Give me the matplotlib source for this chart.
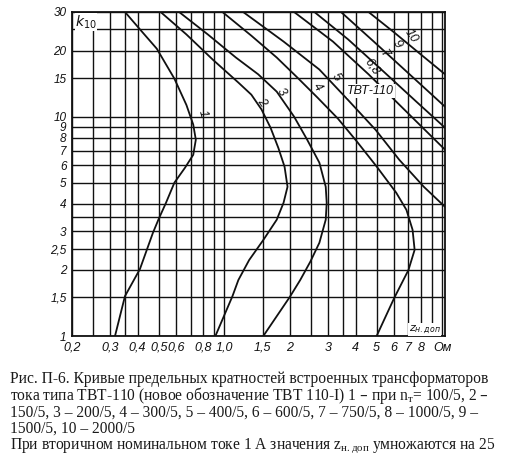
import matplotlib
matplotlib.use("Agg")
import matplotlib.pyplot as plt

# сетка и подписи осей
grid_x = [0.2, 0.25, 0.3, 0.35, 0.4, 0.5, 0.6, 0.7, 0.8, 0.9, 1.0,
          1.5, 2, 2.5, 3, 3.5, 4, 5, 6, 7, 8, 9, 10]
label_x = {0.2: "0,2", 0.3: "0,3", 0.4: "0,4", 0.5: "0,5", 0.6: "0,6",
           0.8: "0,8", 1.0: "1,0", 1.5: "1,5", 2: "2", 3: "3", 4: "4",
           5: "5", 6: "6", 7: "7", 8: "8", 10: "Ом"}
grid_y = [1, 1.5, 2, 2.5, 3, 3.5, 4, 5, 6, 7, 8, 9, 10, 15, 20, 25, 30]
label_y = {1: "1", 1.5: "1,5", 2: "2", 2.5: "2,5", 3: "3", 4: "4", 5: "5",
           6: "6", 7: "7", 8: "8", 9: "9", 10: "10", 15: "15", 20: "20",
           30: "30"}

# кривые k10 = f(z_н.доп)
z1 = [0.35, 0.41, 0.49, 0.59, 0.67, 0.72, 0.74, 0.72, 0.66, 0.59, 0.54, 0.50, 0.47, 0.41, 0.35, 0.315]
k1 = [30, 25, 20.4, 14.9, 11.3, 9.2, 7.85, 6.7, 5.85, 5.0, 4.05, 3.42, 2.95, 2.02, 1.52, 1.0]

z2 = [0.51, 0.67, 0.885, 1.16, 1.33, 1.48, 1.63, 1.77, 1.89, 1.95, 1.87, 1.74, 1.51, 1.30, 1.16, 1.09, 0.91]
k2 = [30, 23.7, 18.2, 14.3, 12.6, 10.8, 8.9, 7.2, 5.91, 4.79, 4.05, 3.39, 2.74, 2.22, 1.80, 1.52, 1.0]

z3 = [0.62, 0.84, 1.13, 1.43, 1.74, 2.09, 2.40, 2.73, 2.92, 2.95, 2.92, 2.73, 2.48, 2.23, 2.0, 1.51]
k3 = [30, 23.7, 18.6, 15.6, 13.0, 10.0, 7.85, 6.17, 4.79, 4.05, 3.39, 2.66, 2.18, 1.80, 1.51, 1.0]

z4 = [0.98, 1.33, 1.74, 2.16, 2.68, 3.32, 4.03, 5.01, 6.15, 6.85, 7.31, 7.47, 7.0, 6.02, 5.0]
k4 = [30, 23.4, 18.6, 15.1, 12.2, 9.8, 7.77, 5.91, 4.50, 3.76, 3.05, 2.47, 2.0, 1.49, 1.0]

z5 = [1.22, 1.87, 2.73, 3.70, 4.95, 6.35, 8.23, 10.3]
k5 = [30, 22.0, 16.4, 11.9, 8.7, 6.36, 4.79, 3.88]

z68 = [2.09, 3.15, 4.59, 7.08, 10.3]
k68 = [30, 22.0, 15.6, 10.2, 7.07]

z7 = [2.59, 3.70, 5.40, 7.47, 10.3]
k7 = [30, 22.5, 16.0, 11.9, 8.9]

z9 = [3.43, 4.85, 7.08, 10.3]
k9 = [30, 22.0, 15.6, 11.1]

z10 = [4.59, 6.02, 7.88, 10.3]
k10 = [30, 24.2, 19.4, 15.6]

curves = [(z1, k1), (z2, k2), (z3, k3), (z4, k4), (z5, k5),
          (z68, k68), (z7, k7), (z9, k9), (z10, k10)]

# подписи кривых: текст, z, k
curve_names = ["2", "3", "4", "5", "6,8", "7", "9", "10"]
name_z = [1.48, 1.83, 2.67, 3.25, 4.74, 5.40, 6.21, 7.23]
name_k = [11.6, 13.0, 13.7, 15.1, 16.9, 19.2, 21.3, 23.2]

caption = [
    "Рис. П-6. Кривые предельных кратностей встроенных трансформаторов",
    r"тока типа ТВТ-110 (новое обозначение ТВТ 110-I) 1 – при $\mathregular{n_т}$= 100/5, 2 –",
    "150/5, 3 – 200/5, 4 – 300/5, 5 – 400/5, 6 – 600/5, 7 – 750/5, 8 – 1000/5, 9 –",
    "1500/5, 10 – 2000/5",
    r"При вторичном номинальном токе 1 А значения $\mathregular{z_{н.доп}}$ умножаются на 25",
]

ink = "#111111"
tick_font = dict(family=["Liberation Sans", "DejaVu Sans"], style="italic", size=9)
ytick_font = dict(family=["Liberation Sans", "DejaVu Sans"], style="italic", size=8.5)

fig = plt.figure(figsize=(5.23, 4.72), dpi=100)
ax = fig.add_axes([0.1377, 0.2881, 0.7132, 0.6865])
ax.set_xscale("log")
ax.set_yscale("log")
ax.set_xlim(0.2, 10.3)
ax.set_ylim(1, 30)

for v in grid_x:
    ax.axvline(v, color=ink, lw=1.0, zorder=1)
for v in grid_y:
    ax.axhline(v, color=ink, lw=1.0, zorder=1)

for z, k in curves:
    ax.plot(z, k, color=ink, lw=1.3, zorder=3)

ax.xaxis.set_minor_locator(matplotlib.ticker.NullLocator())
ax.yaxis.set_minor_locator(matplotlib.ticker.NullLocator())
ax.set_xticks(grid_x, [label_x.get(v, "") for v in grid_x], **tick_font)
ax.set_yticks(grid_y, [label_y.get(v, "") for v in grid_y], **ytick_font)
ax.tick_params(length=0, pad=4, colors=ink)
for s in ax.spines.values():
    s.set_linewidth(1.3)
    s.set_color(ink)

for name, z, k in zip(curve_names, name_z, name_k):
    ax.text(z, k, name, rotation=-55, ha="center", va="center", color=ink,
            zorder=4, **tick_font)
ax.text(0.79, 10.3, "1", rotation=-75, ha="center", va="center", color=ink,
        zorder=4, **tick_font)
ax.text(4.7, 13.1, "ТВТ-110", ha="center", va="center", color=ink, zorder=4,
        bbox=dict(facecolor="white", edgecolor="none", pad=0.5), **tick_font)
ax.text(0.207, 27.0, "$k_{10}$", ha="left", va="center", color=ink, zorder=4,
        bbox=dict(facecolor="white", edgecolor="none", pad=0.3), size=10)
ax.text(8.3, 1.07, r"$z_{н.доп}$", ha="center", va="center", color=ink, zorder=4,
        bbox=dict(facecolor="white", edgecolor="none", pad=0.3),
        family=["DejaVu Sans"], style="italic", size=8)

ys = [379, 396, 413, 429, 446]
for line, y in zip(caption, ys):
    fig.text(10 / 523, 1 - y / 472, line, ha="left", va="center",
             family=["Liberation Serif", "DejaVu Serif"], size=11.2, color="#1a1a1a")

fig.savefig("out.png", dpi=100, facecolor="white")
